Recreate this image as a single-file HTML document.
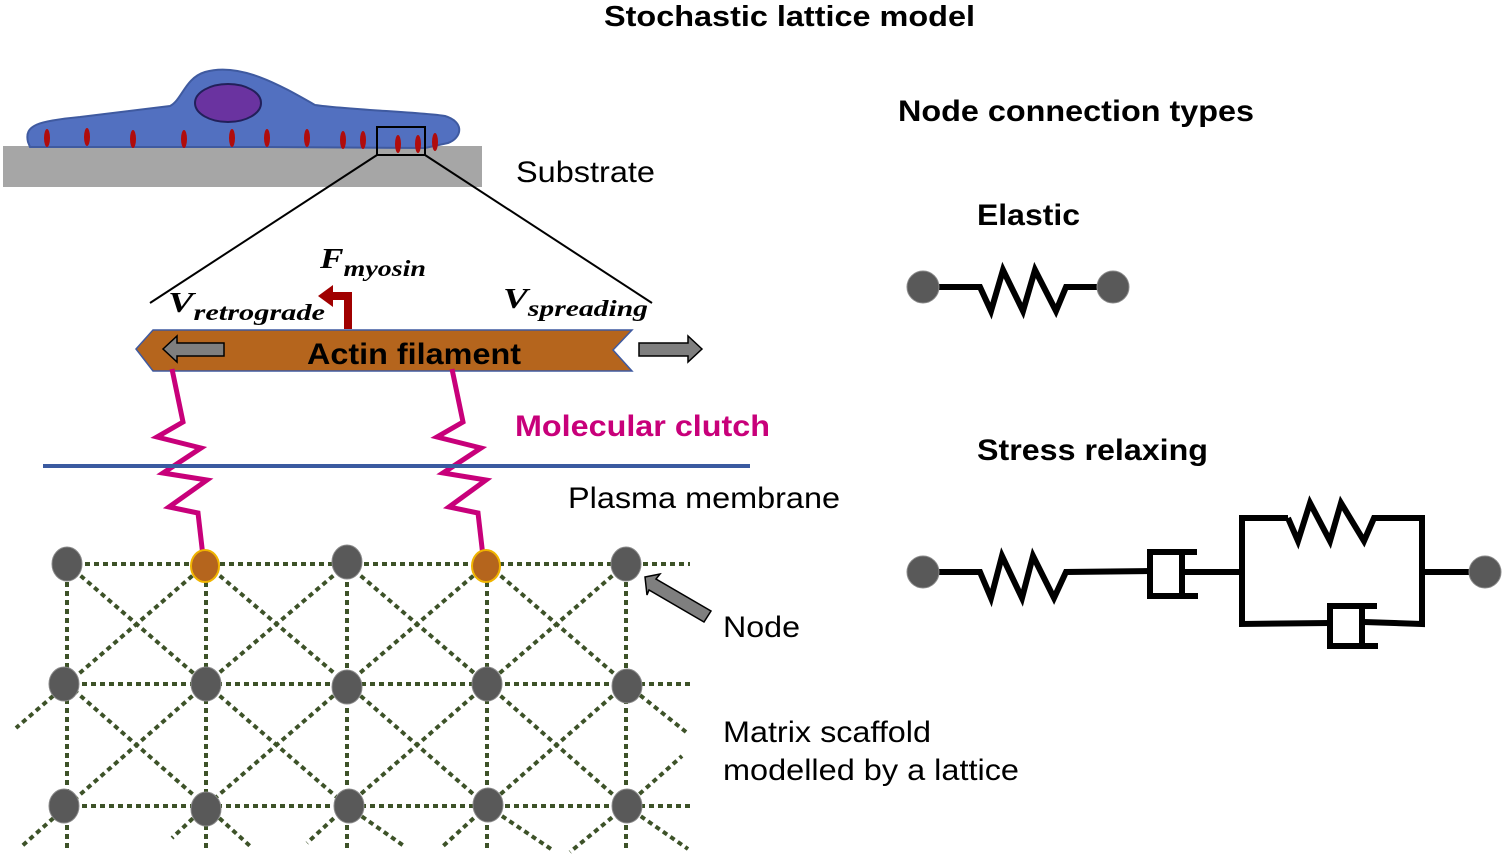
<!DOCTYPE html>
<html><head><meta charset="utf-8"><style>
html,body{margin:0;padding:0;background:#fff;}
svg{display:block;}
text{font-family:"Liberation Sans",Arial,sans-serif;}
.m{font-family:"Liberation Serif",serif;font-weight:bold;font-style:italic;}
</style></head><body>
<svg width="1504" height="863" viewBox="0 0 1504 863" xmlns="http://www.w3.org/2000/svg">
<text x="604" y="26" font-size="29" font-weight="bold" textLength="371" lengthAdjust="spacingAndGlyphs">Stochastic lattice model</text>
<!-- substrate & cell -->
<rect x="3" y="146" width="479" height="41" fill="#a6a6a6"/>
<path d="M28,142 C24,125 38,121 80,117 L170,106 C182,100 185,78 205,72 C240,62 280,85 315,105 C350,110 420,112 445,116 C465,122 462,138 448,143 L425,148 C300,147 120,146 30,147 Z" fill="#5270c0" stroke="#3f5aa0" stroke-width="2"/>
<ellipse cx="228" cy="103" rx="33" ry="19" fill="#6a33a0" stroke="#22205a" stroke-width="2"/>
<g fill="#b00c0c">
<ellipse cx="47" cy="138" rx="3" ry="9"/><ellipse cx="87" cy="137" rx="3" ry="9"/><ellipse cx="133" cy="139" rx="3" ry="9"/><ellipse cx="184" cy="139" rx="3" ry="9"/><ellipse cx="232" cy="138" rx="3" ry="9"/><ellipse cx="267" cy="138" rx="3" ry="9"/><ellipse cx="307" cy="138" rx="3" ry="9"/><ellipse cx="343" cy="140" rx="3" ry="9"/><ellipse cx="363" cy="140" rx="3" ry="9"/><ellipse cx="398" cy="144" rx="3" ry="9"/><ellipse cx="418" cy="144" rx="3" ry="9"/><ellipse cx="435" cy="142" rx="3" ry="9"/>
</g>
<rect x="377" y="127" width="48" height="28" fill="none" stroke="#000" stroke-width="2"/>
<line x1="377" y1="155" x2="150" y2="303" stroke="#000" stroke-width="2"/>
<line x1="425" y1="155" x2="652" y2="303" stroke="#000" stroke-width="2"/>
<text x="516" y="182" font-size="30" textLength="139" lengthAdjust="spacingAndGlyphs">Substrate</text>
<!-- labels -->
<text class="m" x="320" y="268" font-size="29" textLength="106" lengthAdjust="spacingAndGlyphs">F<tspan font-size="23" dy="8">myosin</tspan></text>
<text class="m" x="168" y="312" font-size="29" textLength="157" lengthAdjust="spacingAndGlyphs">V<tspan font-size="23" dy="8">retrograde</tspan></text>
<text class="m" x="503" y="308" font-size="29" textLength="145" lengthAdjust="spacingAndGlyphs">V<tspan font-size="23" dy="8">spreading</tspan></text>
<!-- myosin arrow -->
<path d="M348,329 L348,296 L332,296" fill="none" stroke="#a00000" stroke-width="8"/>
<polygon points="318,296 333,285 333,307" fill="#a00000"/>
<!-- actin -->
<polygon points="136,349 153,330 632,330 613,350 632,371 153,371" fill="#b5651d" stroke="#3f5aa0" stroke-width="1.5"/>
<polygon points="163,349 177,336 177,343 224,343 224,356 177,356 177,362" fill="#7f7f7f" stroke="#000" stroke-width="1.5"/>
<polygon points="702,349 688,336 688,343 639,343 639,356 688,356 688,362" fill="#7f7f7f" stroke="#000" stroke-width="1.5"/>
<text x="307" y="364" font-size="30" font-weight="bold" textLength="214" lengthAdjust="spacingAndGlyphs">Actin filament</text>
<!-- clutches -->
<polyline points="172,369 183,422 157,437 201,448 163,473 207,480 169,507 198,513 204,565" fill="none" stroke="#c8007a" stroke-width="5"/>
<polyline points="452,369 463,422 437,437 481,448 443,473 486,480 449,507 478,513 484,565" fill="none" stroke="#c8007a" stroke-width="5"/>
<line x1="43" y1="466" x2="750" y2="466" stroke="#3a5aa0" stroke-width="4"/>
<text x="515" y="436" font-size="30" font-weight="bold" fill="#c8007a" textLength="255" lengthAdjust="spacingAndGlyphs">Molecular clutch</text>
<text x="568" y="508" font-size="30" textLength="272" lengthAdjust="spacingAndGlyphs">Plasma membrane</text>
<!-- lattice -->
<g stroke="#3d5228" stroke-width="4" stroke-dasharray="5,4" fill="none">
<line x1="67" y1="564" x2="690" y2="564"/><line x1="64" y1="684" x2="690" y2="684"/><line x1="64" y1="806" x2="690" y2="806"/>
<line x1="67" y1="564" x2="67" y2="852"/><line x1="206" y1="564" x2="206" y2="852"/><line x1="347" y1="564" x2="347" y2="852"/><line x1="487" y1="564" x2="487" y2="852"/><line x1="626" y1="564" x2="626" y2="852"/>
<line x1="67" y1="564" x2="206" y2="684"/><line x1="206" y1="564" x2="67" y2="684"/>
<line x1="206" y1="564" x2="347" y2="684"/><line x1="347" y1="564" x2="206" y2="684"/>
<line x1="347" y1="564" x2="487" y2="684"/><line x1="487" y1="564" x2="347" y2="684"/>
<line x1="487" y1="564" x2="626" y2="684"/><line x1="626" y1="564" x2="487" y2="684"/>
<line x1="67" y1="684" x2="206" y2="806"/><line x1="206" y1="684" x2="67" y2="806"/>
<line x1="206" y1="684" x2="347" y2="806"/><line x1="347" y1="684" x2="206" y2="806"/>
<line x1="347" y1="684" x2="487" y2="806"/><line x1="487" y1="684" x2="347" y2="806"/>
<line x1="487" y1="684" x2="626" y2="806"/><line x1="626" y1="684" x2="487" y2="806"/>
<line x1="67" y1="684" x2="16" y2="728"/>
<line x1="626" y1="684" x2="686" y2="732"/><line x1="626" y1="806" x2="682" y2="756"/>
<line x1="67" y1="806" x2="22" y2="846"/>
<line x1="206" y1="806" x2="172" y2="838"/><line x1="206" y1="806" x2="250" y2="846"/>
<line x1="347" y1="806" x2="307" y2="843"/><line x1="347" y1="806" x2="404" y2="846"/>
<line x1="487" y1="806" x2="441" y2="848"/><line x1="487" y1="806" x2="551" y2="849"/>
<line x1="626" y1="806" x2="570" y2="852"/><line x1="626" y1="806" x2="688" y2="849"/>
</g>
<g fill="#595959" stroke="#8a8a8a" stroke-width="1">
<ellipse cx="67" cy="564" rx="15" ry="17"/><ellipse cx="347" cy="562" rx="15" ry="17"/><ellipse cx="626" cy="564" rx="15" ry="17"/>
<ellipse cx="64" cy="684" rx="15" ry="17"/><ellipse cx="206" cy="684" rx="15" ry="17"/><ellipse cx="347" cy="687" rx="15" ry="17"/><ellipse cx="487" cy="684" rx="15" ry="17"/><ellipse cx="627" cy="686" rx="15" ry="17"/>
<ellipse cx="64" cy="806" rx="15" ry="17"/><ellipse cx="206" cy="809" rx="15" ry="17"/><ellipse cx="349" cy="806" rx="15" ry="17"/><ellipse cx="488" cy="805" rx="15" ry="17"/><ellipse cx="627" cy="806" rx="15" ry="17"/>
</g>
<g fill="#b5651d" stroke="#f0b400" stroke-width="2">
<ellipse cx="205" cy="566" rx="14" ry="16"/><ellipse cx="486" cy="566" rx="14" ry="16"/>
</g>
<polygon points="645,577 660,574 656,579 711,611 704,622 649,590 647,595" fill="#7f7f7f" stroke="#000" stroke-width="1.5"/>
<text x="723" y="637" font-size="30" textLength="77" lengthAdjust="spacingAndGlyphs">Node</text>
<text x="723" y="742" font-size="30" textLength="208" lengthAdjust="spacingAndGlyphs">Matrix scaffold</text>
<text x="723" y="780" font-size="30" textLength="296" lengthAdjust="spacingAndGlyphs">modelled by a lattice</text>
<!-- right side -->
<text x="898" y="121" font-size="30" font-weight="bold" textLength="356" lengthAdjust="spacingAndGlyphs">Node connection types</text>
<text x="977" y="225" font-size="30" font-weight="bold" textLength="103" lengthAdjust="spacingAndGlyphs">Elastic</text>
<text x="977" y="460" font-size="30" font-weight="bold" textLength="231" lengthAdjust="spacingAndGlyphs">Stress relaxing</text>
<g fill="none" stroke="#000" stroke-width="6">
<polyline points="930,287 980,287 991,311 1003,270 1023,311 1035,270 1056,311 1066,287 1105,287"/>
<polyline points="930,572 980,572 991,598 1002,556 1022,598 1033,556 1054,598 1066,572 1150,571"/>
<polyline points="1197,552 1150,552 1150,596 1198,596"/>
<line x1="1182" y1="553" x2="1182" y2="595"/>
<line x1="1182" y1="572" x2="1242" y2="572"/>
<polyline points="1288,518 1242,518 1242,624 1330,623"/>
<polyline points="1288,518 1298,541 1310,503 1330,541 1341,503 1364,541 1374,518 1422,518 1422,624 1364,622"/>
<polyline points="1377,606 1330,606 1330,646 1378,646"/>
<line x1="1362" y1="607" x2="1362" y2="645"/>
<line x1="1422" y1="572" x2="1478" y2="572"/>
</g>
<g fill="#595959" stroke="#8a8a8a" stroke-width="1">
<circle cx="923" cy="287" r="16"/><circle cx="1113" cy="287" r="16"/>
<circle cx="923" cy="572" r="16"/><circle cx="1485" cy="572" r="16"/>
</g>
</svg>
</body></html>
